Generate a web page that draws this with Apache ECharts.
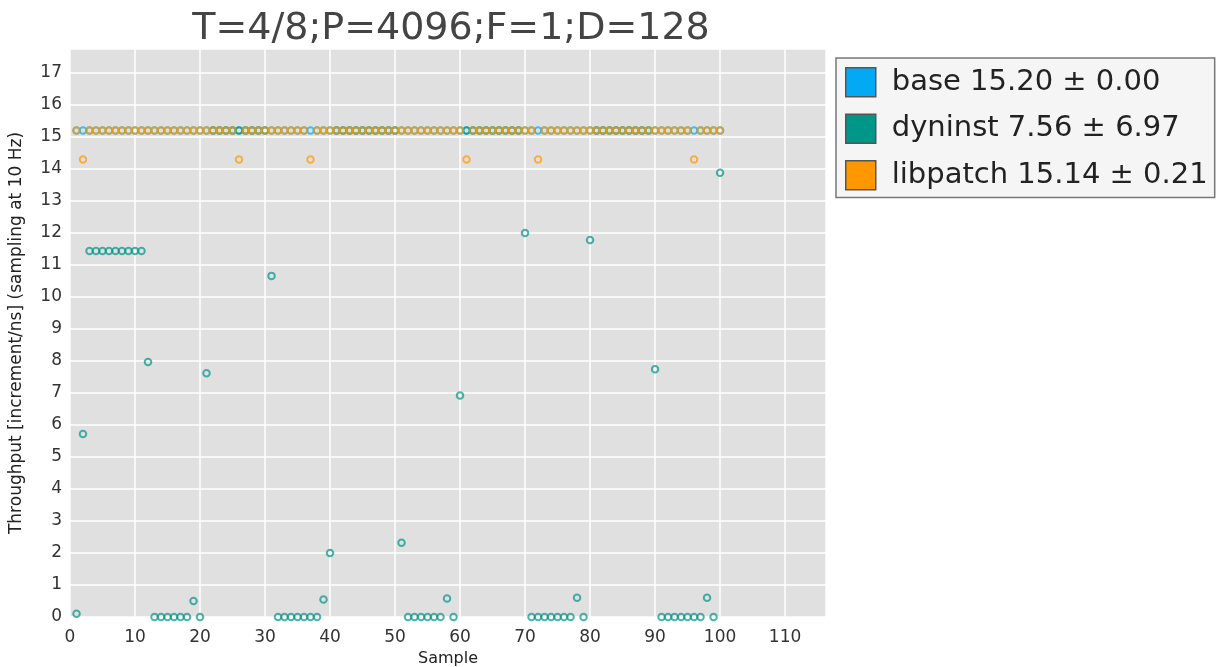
<!DOCTYPE html>
<html>
<head>
<meta charset="utf-8">
<title>T=4/8;P=4096;F=1;D=128</title>
<script src="https://cdn.jsdelivr.net/npm/echarts@6/dist/echarts.min.js"></script>
<style>
  html, body { margin: 0; padding: 0; background: #fff; }
  #chart { width: 1219px; height: 667px; }
</style>
</head>
<body>
<div id="chart"></div>
<script>
// throughput per sample (sample number = position + 1)
const baseValues = [
  15.2, 15.2, 15.2, 15.2, 15.2, 15.2, 15.2, 15.2, 15.2, 15.2,
  15.2, 15.2, 15.2, 15.2, 15.2, 15.2, 15.2, 15.2, 15.2, 15.2,
  15.2, 15.2, 15.2, 15.2, 15.2, 15.2, 15.2, 15.2, 15.2, 15.2,
  15.2, 15.2, 15.2, 15.2, 15.2, 15.2, 15.2, 15.2, 15.2, 15.2,
  15.2, 15.2, 15.2, 15.2, 15.2, 15.2, 15.2, 15.2, 15.2, 15.2,
  15.2, 15.2, 15.2, 15.2, 15.2, 15.2, 15.2, 15.2, 15.2, 15.2,
  15.2, 15.2, 15.2, 15.2, 15.2, 15.2, 15.2, 15.2, 15.2, 15.2,
  15.2, 15.2, 15.2, 15.2, 15.2, 15.2, 15.2, 15.2, 15.2, 15.2,
  15.2, 15.2, 15.2, 15.2, 15.2, 15.2, 15.2, 15.2, 15.2, 15.2,
  15.2, 15.2, 15.2, 15.2, 15.2, 15.2, 15.2, 15.2, 15.2, 15.2
];
const dyninstValues = [
  0.1, 5.72, 11.44, 11.44, 11.44, 11.44, 11.44, 11.44, 11.44, 11.44,
  11.44, 7.97, 0, 0, 0, 0, 0, 0, 0.5, 0,
  7.62, 15.2, 15.2, 15.2, 15.2, 15.2, 15.2, 15.2, 15.2, 15.2,
  10.66, 0, 0, 0, 0, 0, 0, 0, 0.55, 2.0,
  15.2, 15.2, 15.2, 15.2, 15.2, 15.2, 15.2, 15.2, 15.2, 15.2,
  2.32, 0, 0, 0, 0, 0, 0, 0.58, 0, 6.92,
  15.2, 15.2, 15.2, 15.2, 15.2, 15.2, 15.2, 15.2, 15.2, 12.0,
  0, 0, 0, 0, 0, 0, 0, 0.6, 0, 11.78,
  15.2, 15.2, 15.2, 15.2, 15.2, 15.2, 15.2, 15.2, 15.2, 7.74,
  0, 0, 0, 0, 0, 0, 0, 0.6, 0, 13.88
];
const libpatchValues = [
  15.2, 14.3, 15.2, 15.2, 15.2, 15.2, 15.2, 15.2, 15.2, 15.2,
  15.2, 15.2, 15.2, 15.2, 15.2, 15.2, 15.2, 15.2, 15.2, 15.2,
  15.2, 15.2, 15.2, 15.2, 15.2, 14.3, 15.2, 15.2, 15.2, 15.2,
  15.2, 15.2, 15.2, 15.2, 15.2, 15.2, 14.3, 15.2, 15.2, 15.2,
  15.2, 15.2, 15.2, 15.2, 15.2, 15.2, 15.2, 15.2, 15.2, 15.2,
  15.2, 15.2, 15.2, 15.2, 15.2, 15.2, 15.2, 15.2, 15.2, 15.2,
  14.3, 15.2, 15.2, 15.2, 15.2, 15.2, 15.2, 15.2, 15.2, 15.2,
  15.2, 14.3, 15.2, 15.2, 15.2, 15.2, 15.2, 15.2, 15.2, 15.2,
  15.2, 15.2, 15.2, 15.2, 15.2, 15.2, 15.2, 15.2, 15.2, 15.2,
  15.2, 15.2, 15.2, 15.2, 15.2, 14.3, 15.2, 15.2, 15.2, 15.2
];
const seriesNames = ['base', 'dyninst', 'libpatch'];
const legendLabels = ['base 15.20 \u00b1 0.00', 'dyninst 7.56 \u00b1 6.97', 'libpatch 15.14 \u00b1 0.21'];
const colors = ['#03a9f4', '#009688', '#ff9800'];

const FONT = 'DejaVu Sans';

function toPoints(values) {
  return values.map((v, i) => [i + 1, v]);
}

const chart = echarts.init(document.getElementById('chart'));

const allValues = [baseValues, dyninstValues, libpatchValues];

chart.setOption({
  animation: false,
  textStyle: { fontFamily: FONT },
  title: {
    text: 'T=4/8;P=4096;F=1;D=128',
    left: 446,
    top: 5,
    textAlign: 'center',
    textStyle: { fontFamily: FONT, fontSize: 38, fontWeight: 'normal', color: '#444' }
  },
  grid: {
    left: 70, right: 393, top: 49, bottom: 50,
    outerBoundsMode: 'none',
    show: true, backgroundColor: '#e0e0e0', borderWidth: 0
  },
  legend: {
    orient: 'vertical',
    left: 836,
    top: 58,
    padding: [9, 7, 7, 9],
    itemGap: 16,
    itemWidth: 30,
    itemHeight: 29,
    backgroundColor: '#f5f5f5',
    borderColor: '#777',
    borderWidth: 1.5,
    borderRadius: 0,
    selectedMode: false,
    textStyle: { fontFamily: FONT, fontSize: 29, color: '#222', lineHeight: 29, padding: [0, 0, 0, 11] },
    formatter: name => legendLabels[seriesNames.indexOf(name)],
    data: seriesNames.map((n, i) => ({
      name: n,
      icon: 'rect',
      itemStyle: { color: colors[i], borderColor: '#555', borderWidth: 1.5, opacity: 1 }
    }))
  },
  xAxis: {
    type: 'value',
    min: 0,
    max: 116.3,
    interval: 10,
    name: 'Sample',
    nameLocation: 'middle',
    nameGap: 31,
    nameTextStyle: { fontFamily: FONT, fontSize: 16, color: '#222' },
    axisLine: { show: false },
    axisTick: { show: false },
    axisLabel: { fontFamily: FONT, fontSize: 17, color: '#333', margin: 12, showMaxLabel: false },
    splitLine: { show: true, lineStyle: { color: '#fff', width: 1.5 } }
  },
  yAxis: {
    type: 'value',
    min: 0,
    max: 17.75,
    interval: 1,
    name: 'Throughput [increment/ns] (sampling at 10 Hz)',
    nameLocation: 'middle',
    nameGap: 45,
    nameTextStyle: { fontFamily: FONT, fontSize: 17, color: '#222' },
    axisLine: { show: false },
    axisTick: { show: false },
    axisLabel: { fontFamily: FONT, fontSize: 17, color: '#333', margin: 8, showMaxLabel: false },
    splitLine: { show: true, lineStyle: { color: '#fff', width: 1.5 } }
  },
  series: seriesNames.map((n, i) => ({
    name: n,
    type: 'scatter',
    symbol: 'circle',
    symbolSize: 6.5,
    itemStyle: { color: 'rgba(0,0,0,0)', borderColor: colors[i], borderWidth: 2, opacity: 0.7 },
    data: toPoints(allValues[i])
  }))
});
</script>
</body>
</html>
